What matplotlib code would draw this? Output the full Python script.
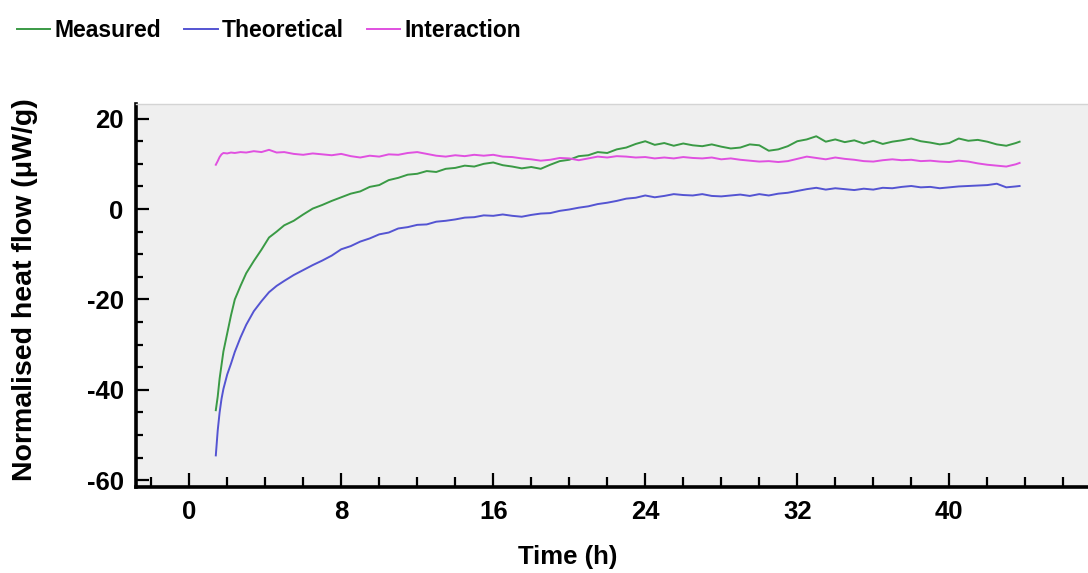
import matplotlib.pyplot as plt
import numpy as np
from matplotlib.ticker import MultipleLocator

# sample times (h)
hours = [1.4, 1.5, 1.6, 1.7, 1.8, 2.0, 2.2, 2.4, 2.7, 3.0, 3.4, 3.8, 4.2, 4.6, 5.0] \
        + list(np.arange(5.5, 44.0, 0.5)) + [43.7]

measured = [-44.5, -41.5, -37.5, -34.5, -31.5, -27.5, -23.5, -20.0, -17.0, -14.2,
            -11.5, -9.0, -6.3, -5.0, -3.6,
            -2.6, -1.2, 0.1, 0.9, 1.8, 2.6, 3.4, 3.9, 4.9, 5.3,
            6.4, 6.9, 7.6, 7.8, 8.4, 8.2, 8.9, 9.1, 9.6, 9.4,
            10.0, 10.3, 9.7, 9.4, 9.0, 9.3, 8.9, 9.8, 10.6, 10.9,
            11.7, 11.9, 12.6, 12.4, 13.2, 13.6, 14.4, 15.0, 14.2, 14.6,
            14.0, 14.5, 14.1, 13.9, 14.3, 13.8, 13.4, 13.6, 14.3, 14.1,
            12.9, 13.2, 13.9, 15.0, 15.4, 16.1, 14.9, 15.4, 14.8, 15.2,
            14.5, 15.1, 14.4, 14.9, 15.2, 15.6, 15.0, 14.7, 14.3, 14.6,
            15.6, 15.1, 15.3, 14.9, 14.3, 14.0, 14.6, 14.9]

theoretical = [-54.5, -49.0, -45.0, -42.0, -39.8, -36.6, -34.2, -31.6, -28.4, -25.6,
               -22.6, -20.4, -18.4, -17.0, -15.9,
               -14.6, -13.5, -12.4, -11.4, -10.3, -8.9, -8.2, -7.2, -6.5, -5.6,
               -5.2, -4.3, -4.0, -3.5, -3.4, -2.8, -2.6, -2.3, -1.9, -1.8,
               -1.4, -1.5, -1.2, -1.5, -1.7, -1.3, -1.0, -0.9, -0.4, -0.1,
               0.3, 0.6, 1.1, 1.4, 1.8, 2.3, 2.5, 3.0, 2.6, 2.9,
               3.3, 3.1, 3.0, 3.3, 2.9, 2.8, 3.0, 3.2, 2.9, 3.3,
               3.0, 3.4, 3.6, 4.0, 4.4, 4.7, 4.3, 4.6, 4.4, 4.2,
               4.5, 4.3, 4.7, 4.6, 4.9, 5.1, 4.8, 4.9, 4.6, 4.8,
               5.0, 5.1, 5.2, 5.3, 5.6, 4.8, 5.0, 5.1]

interaction = [9.8, 10.6, 11.5, 12.1, 12.4, 12.3, 12.5, 12.4, 12.6, 12.5,
               12.8, 12.6, 13.1, 12.5, 12.6,
               12.2, 12.0, 12.3, 12.1, 11.9, 12.2, 11.7, 11.4, 11.8, 11.6,
               12.1, 12.0, 12.4, 12.6, 12.2, 11.8, 11.6, 11.9, 11.7, 12.0,
               11.8, 12.0, 11.6, 11.5, 11.2, 11.0, 10.7, 10.9, 11.3, 11.2,
               10.8, 11.2, 11.6, 11.4, 11.7, 11.6, 11.4, 11.5, 11.2, 11.4,
               11.2, 11.5, 11.3, 11.2, 11.4, 11.0, 11.2, 10.9, 10.7, 10.5,
               10.6, 10.4, 10.6, 11.1, 11.6, 11.3, 11.0, 11.4, 11.1, 10.9,
               10.6, 10.5, 10.8, 11.0, 10.8, 10.9, 10.6, 10.7, 10.5, 10.4,
               10.7, 10.5, 10.1, 9.8, 9.6, 9.4, 9.9, 10.2]

plt.rcParams['font.family'] = ['Liberation Sans', 'DejaVu Sans']
plt.rcParams['font.weight'] = 'bold'
plt.rcParams['axes.unicode_minus'] = False

fig = plt.figure(figsize=(10.88, 5.73), dpi=100)
ax = fig.add_axes([0.125, 0.150, 0.875, 0.669])
ax.set_facecolor('#efefef')

ax.plot(hours, measured, color='#3a9a45', lw=1.4, label='Measured')
ax.plot(hours, theoretical, color='#5454d2', lw=1.4, label='Theoretical')
ax.plot(hours, interaction, color='#e050e0', lw=1.4, label='Interaction')

ax.set_xlim(-2.8, 47.3)
ax.set_ylim(-61.5, 23.3)
ax.xaxis.set_major_locator(MultipleLocator(8))
ax.xaxis.set_minor_locator(MultipleLocator(2))
ax.yaxis.set_major_locator(MultipleLocator(20))
ax.yaxis.set_minor_locator(MultipleLocator(5))

for s in ['left', 'bottom']:
    ax.spines[s].set_linewidth(2.6)
ax.spines['right'].set_visible(False)
ax.spines['top'].set_color('#d4d4d4')
ax.spines['top'].set_linewidth(1.0)

ax.tick_params(axis='x', which='major', direction='in', length=10, width=1.6,
               labelsize=18.5, pad=9)
ax.tick_params(axis='x', which='minor', direction='in', length=7, width=1.6)
ax.tick_params(axis='y', which='major', direction='in', length=9, width=1.6,
               labelsize=18.5, pad=9)
ax.tick_params(axis='y', which='minor', direction='in', length=5, width=1.6)

ax.set_xlabel('Time (h)', fontsize=18.5, fontweight='bold')
ax.xaxis.set_label_coords(0.453, -0.151)
ax.set_ylabel('Normalised heat flow (μW/g)', fontsize=20.5, fontweight='bold')
ax.yaxis.set_label_coords(-0.103, 0.514)

fig.legend(loc='center left', bbox_to_anchor=(0.0156, 0.946), ncol=3, frameon=False,
           fontsize=16.5, handlelength=1.45, handletextpad=0.2, columnspacing=1.0,
           borderpad=0, borderaxespad=0)

fig.savefig('out.png', dpi=100)
